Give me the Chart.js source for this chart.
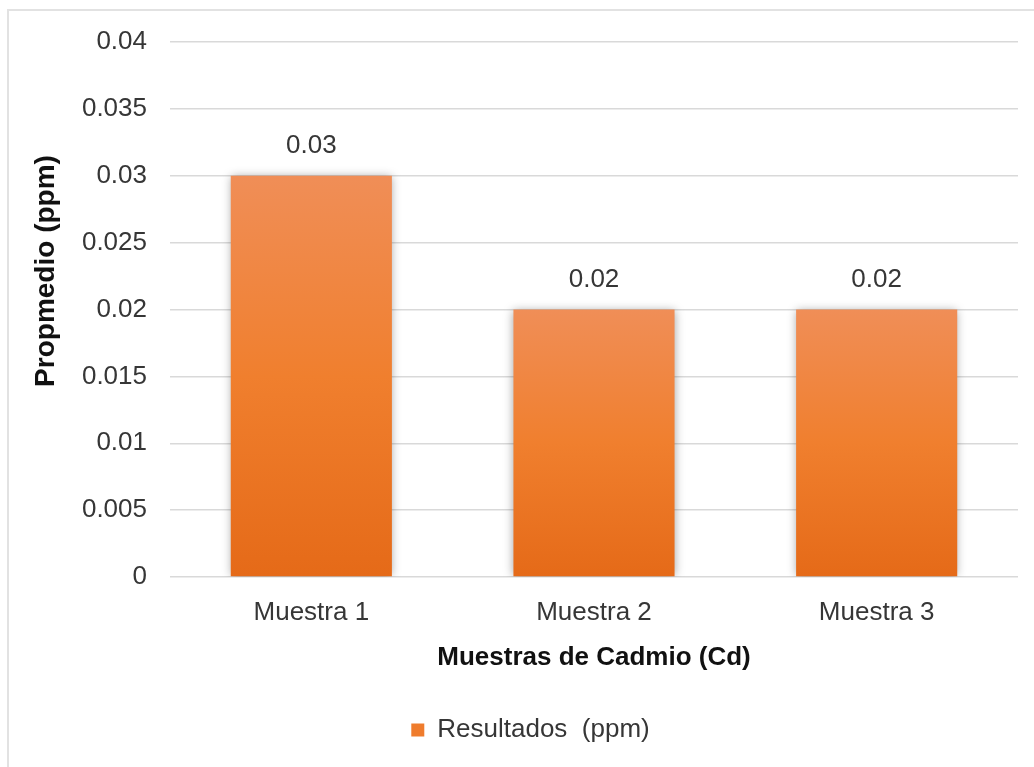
<!DOCTYPE html>
<html>
<head>
<meta charset="utf-8">
<script src="https://cdn.jsdelivr.net/npm/chart.js@4"></script>
<style>
  html, body { margin: 0; padding: 0; background: #fff; overflow: hidden; }
  #wrap { position: relative; width: 1034px; height: 767px; }
  #frame { position: absolute; left: 7px; top: 9px; width: 1100px; height: 800px;
           border-left: 2px solid #e2e2e2; border-top: 2px solid #e2e2e2; }
  canvas { position: absolute; left: 0; top: 0; }
</style>
</head>
<body>
<div id="wrap">
  <div id="frame"></div>
  <canvas id="chart" width="1034" height="767"></canvas>
</div>
<script>
const categories = ['Muestra 1', 'Muestra 2', 'Muestra 3'];
const resultados = [0.03, 0.02, 0.02];
const valueLabels = ['0.03', '0.02', '0.02'];
const yTickLabels = ['0', '0.005', '0.01', '0.015', '0.02', '0.025', '0.03', '0.035', '0.04'];

const FONT = '"Liberation Sans", Arial, sans-serif';
const TEXT = '#363636';

function barFill(context) {
  const chart = context.chart;
  if (context.type !== 'data' || !chart.chartArea) return '#ED7D31';
  const y = chart.scales.y;
  const top = y.getPixelForValue(context.raw);
  const bottom = y.getPixelForValue(0);
  const g = chart.ctx.createLinearGradient(0, top, 0, bottom);
  g.addColorStop(0, '#F08E57');
  g.addColorStop(0.5, '#F07F2E');
  g.addColorStop(1, '#E56A18');
  return g;
}

// soft shadow behind the bars + value labels above them
const barExtras = {
  id: 'barExtras',
  beforeDatasetsDraw(chart) {
    const ctx = chart.ctx;
    ctx.save();
    ctx.shadowColor = 'rgba(0,0,0,0.35)';
    ctx.shadowBlur = 9;
  },
  afterDatasetsDraw(chart) {
    const ctx = chart.ctx;
    ctx.restore();
    const meta = chart.getDatasetMeta(0);
    ctx.save();
    ctx.font = '26px ' + FONT;
    ctx.fillStyle = TEXT;
    ctx.textAlign = 'center';
    ctx.textBaseline = 'middle';
    meta.data.forEach((bar, i) => {
      ctx.fillText(valueLabels[i], bar.x, bar.y - 30);
    });
    ctx.restore();
  },
  afterDraw(chart) {
    // y axis title, placed like the original (not centred on the plot)
    const ctx = chart.ctx;
    ctx.save();
    ctx.translate(46, 271);
    ctx.rotate(-Math.PI / 2);
    ctx.font = 'bold 28px ' + FONT;
    ctx.fillStyle = '#111';
    ctx.textAlign = 'center';
    ctx.textBaseline = 'middle';
    ctx.fillText('Propmedio (ppm)', 0, 0);
    ctx.restore();
  }
};

new Chart(document.getElementById('chart'), {
  type: 'bar',
  data: {
    labels: categories,
    datasets: [{
      label: 'Resultados  (ppm)',
      data: resultados,
      backgroundColor: barFill,
      borderWidth: 0,
      barPercentage: 0.57,
      categoryPercentage: 1.0
    }]
  },
  options: {
    responsive: false,
    animation: false,
    devicePixelRatio: 1,
    layout: { padding: { left: 43, right: 16, top: 42, bottom: 14 } },
    plugins: {
      legend: {
        position: 'bottom',
        labels: {
          boxWidth: 13,
          boxHeight: 13,
          padding: 44,
          color: TEXT,
          font: { family: FONT, size: 26 },
          generateLabels: chart =>
            Chart.defaults.plugins.legend.labels.generateLabels(chart)
              .map(item => ({ ...item, fillStyle: '#EF7C2D', lineWidth: 0 }))
        }
      },
      tooltip: { enabled: false }
    },
    scales: {
      x: {
        grid: { display: false },
        border: { display: false },
        ticks: { color: TEXT, font: { family: FONT, size: 26 }, padding: 12 },
        title: {
          display: true,
          text: 'Muestras de Cadmio (Cd)',
          color: '#111',
          font: { family: FONT, size: 26, weight: 'bold' },
          padding: 0
        },
        afterFit(scale) { scale.height = 96; }
      },
      y: {
        min: 0,
        max: 0.04,
        ticks: {
          stepSize: 0.005,
          color: TEXT,
          padding: 23,
          font: { family: FONT, size: 26 },
          callback: (v, i) => yTickLabels[i]
        },
        grid: { color: '#d9d9d9', lineWidth: 1.5, drawTicks: false },
        border: { display: false },
        afterFit(scale) { scale.width = 127; }
      }
    }
  },
  plugins: [barExtras]
});
</script>
</body>
</html>
